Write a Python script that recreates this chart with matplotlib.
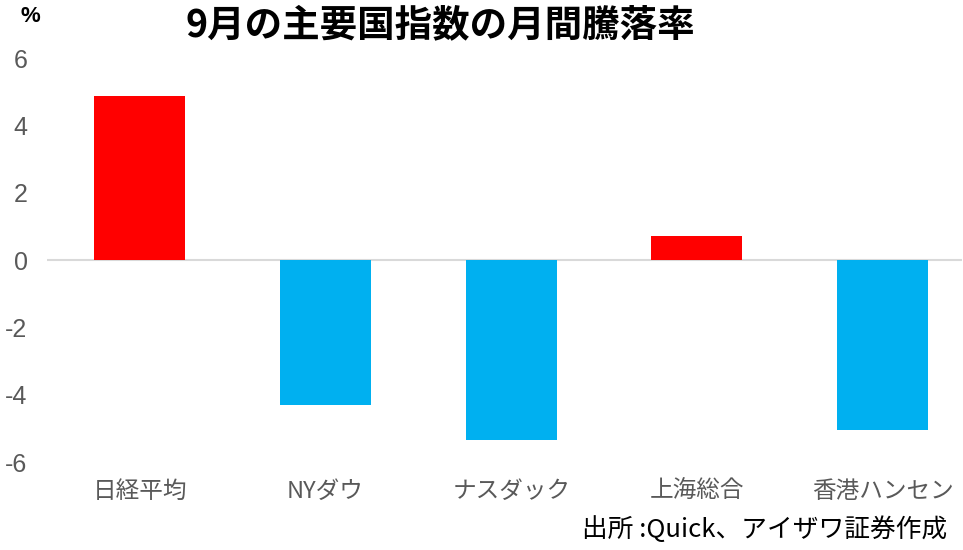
import matplotlib.pyplot as plt

plt.rcParams['font.family'] = ['Noto Sans CJK JP', 'DejaVu Sans']

# data
categories = ['日経平均', 'NYダウ', 'ナスダック', '上海総合', '香港ハンセン']
values = [4.87, -4.31, -5.35, 0.71, -5.05]
colors = ['#FF0000' if v > 0 else '#00B0F0' for v in values]

fig = plt.figure(figsize=(9.63, 5.5), dpi=100)
W, H = 963, 550
# axes in pixel coords: left 47, right 962, top 58, bottom 462
ax = fig.add_axes([47 / W, (H - 462) / H, (962 - 47) / W, (462 - 58) / H])

ax.bar(range(len(categories)), values, width=0.49, color=colors, zorder=2)
ax.axhline(0, color='#D9D9D9', linewidth=1.5, zorder=1)

ax.set_xlim(-0.5, -0.5 + 915 / 185.7)
ax.set_ylim(-6, 6)
ax.set_yticks(range(-6, 7, 2))
ax.set_yticklabels([str(t) for t in range(-6, 7, 2)],
                   family='Liberation Sans', fontsize=18, color='#595959')
ax.set_xticks(range(len(categories)))
ax.set_xticklabels(categories, fontsize=17, color='#595959')
ax.tick_params(axis='y', length=0, pad=14)
ax.tick_params(axis='x', length=0, pad=13)
for s in ax.spines.values():
    s.set_visible(False)

fig.text(440 / W, 1 - 25 / H, '9月の主要国指数の月間騰落率', ha='center', va='center',
         fontsize=27, fontweight='bold', color='black')
fig.text(30 / W, 1 - 17 / H, '%', ha='center', va='center',
         fontsize=16, fontweight='bold', color='black', family='Liberation Sans')
fig.text(947 / W, 1 - 530 / H, '出所 :Quick、アイザワ証券作成', ha='right', va='center',
         fontsize=18.5, color='black')

fig.savefig('out.png', dpi=100)
